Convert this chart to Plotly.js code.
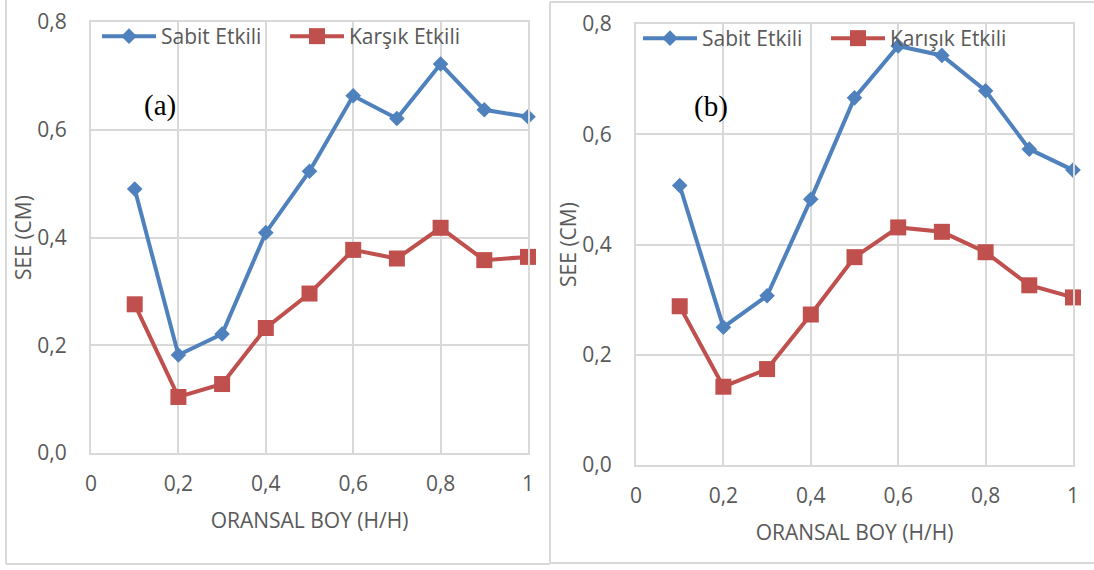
<!DOCTYPE html>
<html>
<head>
<meta charset="utf-8">
<script src="https://cdn.plot.ly/plotly-3.0.1.min.js"></script>
<style>html,body{margin:0;padding:0;background:#fff;}#chart{width:1094px;height:570px;}</style>
</head>
<body>
<div id="chart"></div>
<script>
// ---- data ----
const xValues = [0.1, 0.2, 0.3, 0.4, 0.5, 0.6, 0.7, 0.8, 0.9, 1.0];
const sabitA   = [0.490, 0.182, 0.221, 0.409, 0.523, 0.663, 0.621, 0.722, 0.637, 0.624];
const karsikA  = [0.276, 0.104, 0.128, 0.232, 0.296, 0.377, 0.361, 0.418, 0.358, 0.364];
const sabitB   = [0.507, 0.250, 0.307, 0.482, 0.666, 0.760, 0.743, 0.679, 0.573, 0.535];
const karisikB = [0.288, 0.142, 0.174, 0.273, 0.377, 0.431, 0.423, 0.386, 0.326, 0.304];
const seriesNamesA = ['Sabit Etkili', 'Karşık Etkili'];
const seriesNamesB = ['Sabit Etkili', 'Karışık Etkili'];
const xTickVals = [0, 0.2, 0.4, 0.6, 0.8, 1];
const xTickText = ['0', '0,2', '0,4', '0,6', '0,8', '1'];
const yTickVals = [0, 0.2, 0.4, 0.6, 0.8];
const yTickText = ['0,0', '0,2', '0,4', '0,6', '0,8'];
const xTitle = 'ORANSAL BOY (H/H)';
const yTitle = 'SEE (CM)';
const panelLabels = ['(a)', '(b)'];

// ---- styles ----
const W = 1094, H = 570;
const BLUE = '#4F81BD', RED = '#C0504D', GRID = '#d9d9d9', TXT = '#595959';
const FONT = 'Open Sans, Lato, sans-serif';
const FS = 21;
const px = v => v / W;
const py = v => 1 - v / H;

function sabitTrace(y, name, xa, ya, lg) {
  return {x: xValues, y: y, name: name, type: 'scatter', mode: 'lines+markers',
    xaxis: xa, yaxis: ya, legend: lg, cliponaxis: false,
    line: {color: BLUE, width: 4},
    marker: {symbol: 'diamond', size: 12, color: BLUE}};
}
function karsikTrace(y, name, xa, ya, lg) {
  return {x: xValues, y: y, name: name, type: 'scatter', mode: 'lines+markers',
    xaxis: xa, yaxis: ya, legend: lg, cliponaxis: false,
    line: {color: RED, width: 4},
    marker: {symbol: 'square', size: 16, color: RED}};
}

const data = [
  sabitTrace(sabitA, seriesNamesA[0], 'x', 'y', 'legend'),
  karsikTrace(karsikA, seriesNamesA[1], 'x', 'y', 'legend'),
  sabitTrace(sabitB, seriesNamesB[0], 'x2', 'y2', 'legend2'),
  karsikTrace(karisikB, seriesNamesB[1], 'x2', 'y2', 'legend2')
];

function xAxis(dom, anchor) {
  return {domain: dom, anchor: anchor, range: [0, 1], tickvals: xTickVals, ticktext: xTickText,
    showgrid: true, gridcolor: GRID, gridwidth: 2, zeroline: false,
    showline: true, linecolor: GRID, linewidth: 2, mirror: true,
    ticks: '', ticklabelstandoff: 11, ticklabeloverflow: 'allow',
    tickfont: {family: FONT, size: FS, color: TXT},
    title: {text: xTitle, font: {family: FONT, size: FS, color: TXT}, standoff: 17}};
}
function yAxis(dom, anchor) {
  return {domain: dom, anchor: anchor, range: [0, 0.8], tickvals: yTickVals, ticktext: yTickText,
    showgrid: true, gridcolor: GRID, gridwidth: 2, zeroline: false,
    showline: true, linecolor: GRID, linewidth: 2, mirror: true,
    ticks: '', ticklabelstandoff: 18, ticklabeloverflow: 'allow',
    tickfont: {family: FONT, size: FS, color: TXT},
    title: {text: yTitle, font: {family: FONT, size: FS, color: TXT}, standoff: 0}};
}

const frameLine = (x0, y0, x1, y1) => ({type: 'line', xref: 'paper', yref: 'paper',
  x0: px(x0), y0: py(y0), x1: px(x1), y1: py(y1), line: {color: GRID, width: 2}, layer: 'below'});

const legendBase = {orientation: 'h', bgcolor: 'rgba(0,0,0,0)', borderwidth: 0,
  font: {family: FONT, size: FS, color: TXT}, xanchor: 'left', yanchor: 'top',
  itemwidth: 54, entrywidth: 119, itemclick: false, itemdoubleclick: false};

const layout = {
  width: W, height: H, margin: {l: 0, r: 0, t: 0, b: 0},
  paper_bgcolor: '#ffffff', plot_bgcolor: '#ffffff',
  separators: ',.',
  showlegend: true,
  xaxis: xAxis([px(91), px(528)], 'y'),
  yaxis: yAxis([py(453), py(22)], 'x'),
  xaxis2: xAxis([px(636), px(1073)], 'y2'),
  yaxis2: yAxis([py(465), py(24)], 'x2'),
  legend: Object.assign({}, legendBase, {x: px(97), y: py(16)}),
  legend2: Object.assign({}, legendBase, {x: px(638), y: py(18)}),
  shapes: [
    frameLine(6, 0, 6, 564), frameLine(6, 564, 550, 564), frameLine(550, 2, 550, 564),
    frameLine(550, 2, 1094, 2), frameLine(550, 563, 1094, 563)
  ],
  annotations: [
    {text: panelLabels[0], xref: 'paper', yref: 'paper', x: px(160), y: py(105),
     xanchor: 'center', yanchor: 'middle', showarrow: false,
     font: {family: 'Liberation Serif, Times New Roman, serif', size: 29, color: '#000'}},
    {text: panelLabels[1], xref: 'paper', yref: 'paper', x: px(711), y: py(106),
     xanchor: 'center', yanchor: 'middle', showarrow: false,
     font: {family: 'Liberation Serif, Times New Roman, serif', size: 29, color: '#000'}}
  ]
};

Plotly.newPlot('chart', data, layout, {displayModeBar: false, staticPlot: true});
</script>
</body>
</html>
